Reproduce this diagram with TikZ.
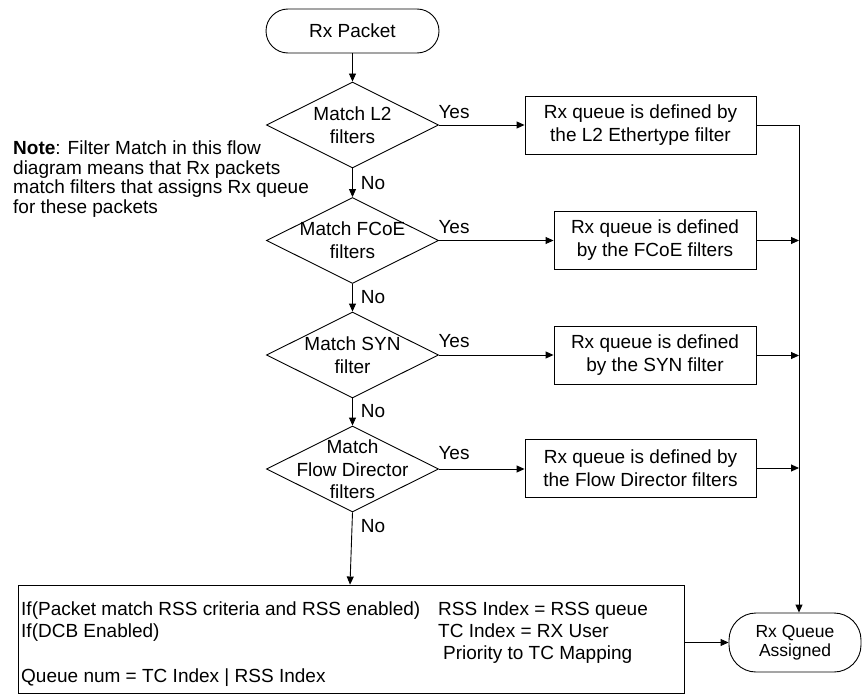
\documentclass[tikz,border=0pt]{standalone}
\usepackage{fontspec}
\setmainfont{Liberation Sans}
\usetikzlibrary{shapes.geometric,arrows.meta}
\begin{document}
\begin{tikzpicture}[x=1pt,y=-1pt,
  every node/.style={font=\fontsize{19}{23}\selectfont, inner sep=0pt},
  line/.style={line width=0.9pt},
  arr/.style={line width=0.9pt,-{Triangle[length=8pt,width=7pt]}},
  term/.style={draw,line width=0.9pt,rounded corners=22pt,minimum width=173pt,minimum height=44pt},
  dia/.style={draw,diamond,line width=0.9pt,minimum width=172pt,minimum height=86pt},
  rbox/.style={draw,line width=0.9pt,minimum height=58pt,align=center},
  txt/.style={align=center},
  lft/.style={anchor=base west}]
\useasboundingbox (0,0) rectangle (863,696);

% start
\node[term] (start) at (352.5,31) {Rx Packet};

% diamonds
\node[dia] (d1) at (352.5,125) {};
\node[txt] (d1t) at (352.5,125) {Match L2\\filters};
\node[dia] (d2) at (352.5,240.5) {};
\node[txt] (d2t) at (352.5,240.5) {Match FCoE\\filters};
\node[dia] (d3) at (352.5,355) {};
\node[txt] (d3t) at (352.5,355) {Match SYN\\filter};
\node[dia] (d4) at (352.5,469) {};
\node[txt,font=\fontsize{19}{22.5}\selectfont] (d4t) at (352.5,469.5) {Match\\Flow Director\\filters};

% boxes
\node[rbox,minimum width=231pt] (b1) at (640.5,125.5) {Rx queue is defined by\\the L2 Ethertype filter};
\node[rbox,minimum width=202pt] (b2) at (655,240.5) {Rx queue is defined\\by the FCoE filters};
\node[rbox,minimum width=202pt] (b3) at (655,355.5) {Rx queue is defined\\by the SYN filter};
\node[rbox,minimum width=231pt] (b4) at (640.5,468) {Rx queue is defined by\\the Flow Director filters};

% bottom box
\node[draw,line width=0.9pt,minimum width=666pt,minimum height=108pt] (big) at (351,639) {};
\node[lft] (l1a) at (21,615) {If(Packet match RSS criteria and RSS enabled)};
\node[lft] (l1b) at (438,615) {RSS Index = RSS queue};
\node[lft] (l2a) at (21,637) {If(DCB Enabled)};
\node[lft] (l2b) at (438,637) {TC Index = RX User};
\node[lft] (l3b) at (443,659) {Priority to TC Mapping};
\node[lft] (l4a) at (21,682) {Queue num = TC Index | RSS Index};

% end terminal
\node[term,rounded corners=27pt,minimum width=132pt,minimum height=59pt,align=center,
      font=\fontsize{17.5}{18.5}\selectfont] (rxq) at (795,642.5) {Rx Queue\\Assigned};

% note
\node[anchor=north west,align=left,font=\fontsize{19}{19.5}\selectfont] (note) at (13,141)
  {\textbf{Note}: Filter Match in this flow\\diagram means that Rx packets\\match filters that assigns Rx queue\\for these packets};

% yes / no labels
\node (y1) at (454,112) {Yes};
\node (y2) at (454,227) {Yes};
\node (y3) at (454,341) {Yes};
\node (y4) at (454,453) {Yes};
\node (n1) at (373,183) {No};
\node (n2) at (373,297) {No};
\node (n3) at (373,411) {No};
\node (n4) at (373,526) {No};

% connectors
\coordinate (busx) at (799,0);
\draw[arr] (start) -- (d1);
\draw[arr] (d1) -- (d2);
\draw[arr] (d2) -- (d3);
\draw[arr] (d3) -- (d4);
\draw[arr] (d4.south) -- (big.north -| 350,0);
\draw[arr] (d1.east) -- (d1.east -| b1.west);
\draw[arr] (d2.east) -- (d2.east -| b2.west);
\draw[arr] (d3.east) -- (d3.east -| b3.west);
\draw[arr] (d4.east) -- (d4.east -| b4.west);
\draw[arr] (b1.east) -- (b1.east -| busx) -- (busx |- rxq.north);
\draw[arr] (b2.east) -- (b2.east -| busx);
\draw[arr] (b3.east) -- (b3.east -| busx);
\draw[arr] (b4.east) -- (b4.east -| busx);
\draw[arr] (big.east |- rxq.west) -- (rxq.west);
\end{tikzpicture}
\end{document}
